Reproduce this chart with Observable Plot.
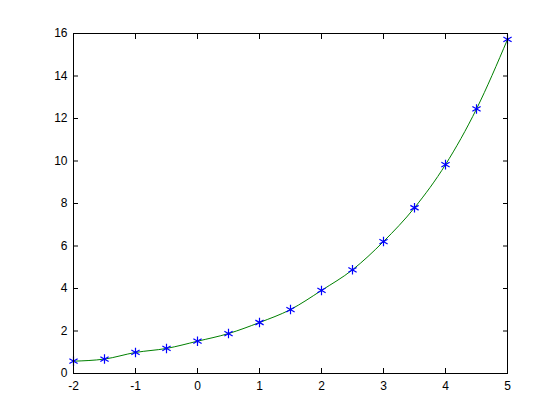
<!DOCTYPE html>
<html>
<head>
<meta charset="utf-8">
<script src="https://cdn.jsdelivr.net/npm/d3@7"></script>
<script src="https://cdn.jsdelivr.net/npm/@observablehq/plot@0.6"></script>
<style>
  html, body { margin: 0; padding: 0; background: #ffffff; }
  #chart svg { display: block; }
</style>
</head>
<body>
<div id="chart"></div>
<script>
const xs = [-2, -1.5, -1, -0.5, 0, 0.5, 1, 1.5, 2, 2.5, 3, 3.5, 4, 4.5, 5];
const ys = [0.58, 0.68, 0.99, 1.18, 1.52, 1.88, 2.40, 3.01, 3.91, 4.88, 6.21, 7.80, 9.83, 12.45, 15.72];
const xTicks = [-2, -1, 0, 1, 2, 3, 4, 5];
const yTicks = [0, 2, 4, 6, 8, 10, 12, 14, 16];

const data = xs.map((x, i) => ({x, y: ys[i]}));

const chart = Plot.plot({
  width: 560,
  height: 420,
  marginLeft: 73,
  marginRight: 53,
  marginTop: 33,
  marginBottom: 47,
  style: {background: "#ffffff", fontFamily: "Liberation Sans, Arial, sans-serif", fontSize: "12px", color: "#000"},
  x: {domain: [-2, 5]},
  y: {domain: [0, 16]},
  marks: [
    Plot.line(data, {x: "x", y: "y", curve: "monotone-x", stroke: "#008000", strokeWidth: 1}),
    Plot.dot(data, {x: "x", y: "y", symbol: "asterisk", r: 4.5, stroke: "#0000ff", strokeWidth: 1.2}),
    Plot.axisX({ticks: xTicks, tickSize: -5, tickPadding: 13, tickFormat: d => d, label: null, fontSize: 12}),
    Plot.axisX({anchor: "top", ticks: xTicks, tickSize: -5, tickFormat: () => "", label: null}),
    Plot.axisY({ticks: yTicks, tickSize: -5, tickPadding: 11, tickFormat: d => d, label: null, fontSize: 12}),
    Plot.axisY({anchor: "right", ticks: yTicks, tickSize: -5, tickFormat: () => "", label: null}),
    Plot.frame({stroke: "#000"})
  ]
});
document.getElementById("chart").appendChild(chart);
</script>
</body>
</html>
